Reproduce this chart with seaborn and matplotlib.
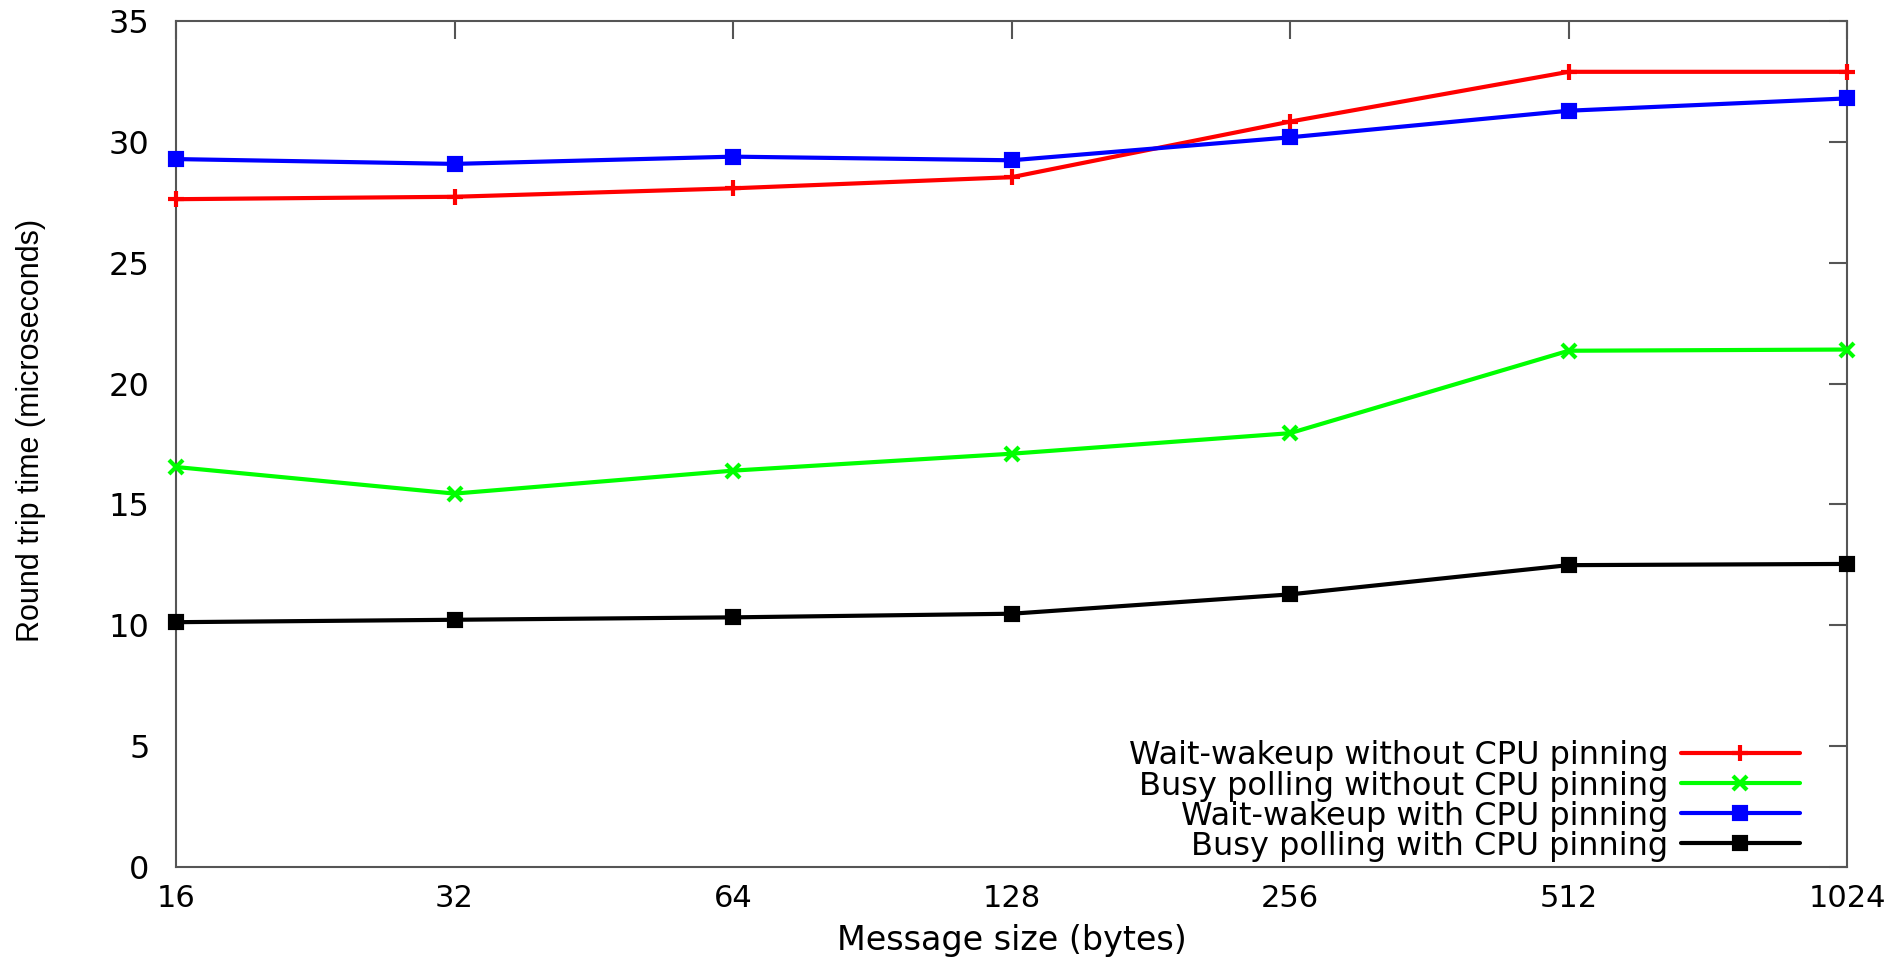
import matplotlib
matplotlib.use("Agg")
import matplotlib.pyplot as plt
import seaborn as sns
import pandas as pd

# 메시지 크기 (bytes)
sizes = [16, 32, 64, 128, 256, 512, 1024]

wait_no_pin = [27.63, 27.73, 28.08, 28.54, 30.84, 32.9, 32.9]
busy_no_pin = [16.55, 15.45, 16.4, 17.1, 17.95, 21.36, 21.41]
wait_pin = [29.29, 29.09, 29.39, 29.24, 30.19, 31.29, 31.8]
busy_pin = [10.13, 10.23, 10.33, 10.48, 11.28, 12.49, 12.54]

labels = [
    "Wait-wakeup without CPU pinning",
    "Busy polling without CPU pinning",
    "Wait-wakeup with CPU pinning",
    "Busy polling with CPU pinning",
]
series = [wait_no_pin, busy_no_pin, wait_pin, busy_pin]
colors = ["#ff0000", "#00ff00", "#0000ff", "#000000"]
markers = ["+", "x", "s", "s"]
msizes = [12, 10, 9, 9]

sns.set_style("white")
plt.rcParams['font.family'] = ['DejaVu Sans']
plt.rcParams['text.color'] = 'black'
plt.rcParams['axes.labelcolor'] = 'black'

fig, ax = plt.subplots(figsize=(19.01, 9.57), dpi=100)
fig.subplots_adjust(left=0.0926, right=0.9716, bottom=0.094, top=0.978)

for lab, vals, c, m, ms in zip(labels, series, colors, markers, msizes):
    df = pd.DataFrame({'size': sizes, 'rtt': vals})
    sns.lineplot(data=df, x='size', y='rtt', ax=ax, color=c, marker=m,
                 markersize=ms, markeredgewidth=3, markeredgecolor=c,
                 linewidth=3, label=lab, clip_on=False, zorder=3)

ax.set_xscale('log', base=2)
ax.set_xlim(16, 1024)
ax.set_ylim(0, 35)
ax.set_xticks(sizes)
ax.set_xticklabels([str(s) for s in sizes])
ax.minorticks_off()
ax.set_yticks(range(0, 36, 5))

ax.tick_params(axis='both', direction='in', length=13, width=1.5,
               top=True, right=True, colors='#555555', labelcolor='black')
ax.tick_params(axis='x', labelsize=22, pad=12)
ax.tick_params(axis='y', labelsize=23, pad=19)
for sp in ax.spines.values():
    sp.set_color('#555555')
    sp.set_linewidth(1.5)

ax.set_xlabel('Message size (bytes)', fontsize=24, labelpad=8)
ax.set_ylabel('Round trip time (microseconds)', fontsize=22,
              family=['Liberation Sans'])
ax.yaxis.set_label_coords(-0.078, 0.516)

leg = ax.legend(loc='lower right', bbox_to_anchor=(0.985, -0.02), frameon=False,
                fontsize=23, markerfirst=False, handlelength=3.7,
                labelspacing=-0.03, borderpad=0.2, handletextpad=0.4)
for t in leg.get_texts():
    t.set_ha('right')
leg._legend_box.align = 'right'

plt.savefig('out.png', dpi=100)
